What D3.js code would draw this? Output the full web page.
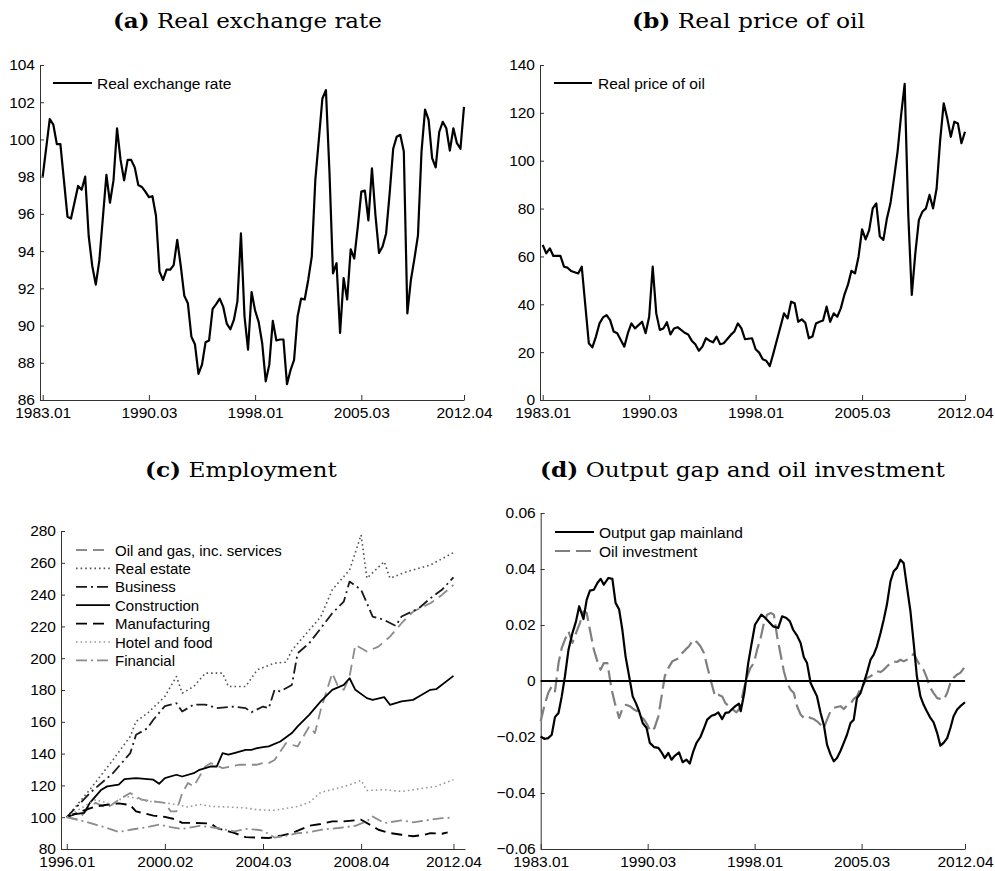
<!doctype html>
<meta charset="utf-8">
<title>Figure</title>
<script src="https://cdn.jsdelivr.net/npm/d3@7"></script>
<style>
body { margin: 0; background: #fff; }
</style>
<body>
<script>
var width = 995, height = 871;

// quarters: t = 0 is 1983.01 for panels a, b, d and 1996.01 for panel c
var longTicks = [0, 30, 60, 90, 119],
    longLabels = ["1983.01", "1990.03", "1998.01", "2005.03", "2012.04"];
var empTicks = [0, 17, 34, 51, 67],
    empLabels = ["1996.01", "2000.02", "2004.03", "2008.04", "2012.04"];
var rerTicks = [86, 88, 90, 92, 94, 96, 98, 100, 102, 104];
var oilTicks = [0, 20, 40, 60, 80, 100, 120, 140];
var empYTicks = [80, 100, 120, 140, 160, 180, 200, 220, 240, 260, 280];
var gapTicks = [-0.06, -0.04, -0.02, 0, 0.02, 0.04, 0.06];

var rer = [[0,98.0],[2,101.1],[3,100.8],[4,99.75],[5,99.75],[7,95.85],[8,95.75],[10,97.5],[11,97.3],[12,98.0],
  [13,94.8],[14,93.2],[15,92.2],[16,93.5],[18,98.1],[19,96.6],[20,97.8],[21,100.6],[22,98.9],[23,97.8],
  [24,98.9],[25,98.9],[26,98.5],[27,97.55],[28,97.45],[29,97.2],[30,96.9],[31,96.95],[32,95.9],[33,92.9],
  [34,92.45],[35,93.0],[36,93.0],[37,93.25],[38,94.6],[39,93.2],[40,91.6],[41,91.2],[42,89.4],[43,89.0],
  [44,87.4],[45,87.9],[46,89.1],[47,89.2],[48,90.9],[49,91.15],[50,91.45],[51,91.0],[52,90.1],[53,89.8],
  [54,90.3],[55,91.3],[56,94.95],[57,90.5],[58,88.7],[59,91.8],[60,90.8],[61,90.2],[62,89.05],[63,87.0],
  [64,87.9],[65,90.25],[66,89.2],[67,89.25],[68,89.25],[69,86.85],[70,87.6],[71,88.15],[72,90.5],[73,91.45],
  [74,91.4],[75,92.45],[76,93.7],[77,97.8],[78,100.0],[79,102.2],[80,102.65],[81,98.25],[82,92.8],[83,93.35],
  [84,89.6],[85,92.55],[86,91.4],[87,94.1],[88,93.6],[89,95.3],[90,97.2],[91,97.25],[92,95.65],[93,98.45],
  [94,95.9],[95,93.9],[96,94.25],[97,94.95],[98,97.1],[99,99.5],[100,100.15],[101,100.25],[102,99.35],[103,90.65],
  [104,92.45],[105,93.6],[106,94.85],[107,99.35],[108,101.6],[109,101.05],[110,99.0],[111,98.5],[112,100.4],[113,100.95],
  [114,100.6],[115,99.4],[116,100.6],[117,99.8],[118,99.5],[119,101.75]];

var oil = [[0,64.8],[1,61.3],[2,63.4],[3,60.2],[5,60.2],[6,55.7],[7,55.3],[8,53.9],[10,52.9],[11,55.7],
  [12,39.7],[13,23.7],[14,22.0],[15,26.5],[16,32.0],[17,34.5],[18,35.5],[19,33.4],[20,28.6],[21,27.9],
  [22,25.1],[23,22.3],[24,27.9],[25,32.0],[26,29.9],[27,31.3],[28,32.7],[29,27.9],[30,34.8],[31,55.7],
  [32,36.2],[33,29.3],[34,29.9],[35,32.5],[36,27.4],[37,29.9],[38,30.4],[39,29.3],[40,28.1],[41,27.4],
  [42,24.8],[43,23.3],[44,20.6],[45,22.3],[46,25.8],[47,24.8],[48,24.1],[49,26.5],[50,23.3],[51,23.7],
  [53,27.2],[54,28.6],[55,32.0],[56,29.9],[57,25.4],[59,25.8],[60,21.2],[61,19.8],[62,17.0],[63,16.4],
  [64,14.2],[65,19.5],[66,25.1],[67,30.6],[68,36.2],[69,34.1],[70,41.1],[71,40.4],[72,32.7],[73,33.7],
  [74,32.3],[75,25.8],[76,26.5],[77,32.0],[78,32.7],[79,33.2],[80,39.0],[81,32.7],[82,36.2],[83,34.8],
  [84,38.3],[85,43.9],[86,48.1],[87,54.0],[88,52.9],[89,59.9],[90,71.3],[91,67.1],[92,71.0],[93,80.1],
  [94,82.2],[95,68.3],[96,66.9],[97,75.9],[98,82.2],[99,92.6],[100,103.8],[101,119.1],[102,132.1],[103,78.0],
  [104,43.9],[105,61.3],[106,75.2],[107,78.7],[108,80.1],[109,85.7],[110,80.1],[111,88.4],[112,108.6],[113,124.0],
  [114,117.7],[115,110.0],[116,116.3],[117,115.6],[118,107.3],[119,112.1]];

var oilGas = [[0,100],[2,98.5],[4,106.8],[5,109],[7,105.8],[9,111],[11,115.2],[13,111],[15,110],[17,109],
  [18,103.7],[19,103.7],[20,115.2],[21,121.5],[22,119.4],[24,131.9],[25,134],[27,130.9],[30,133],[33,133],
  [34,134],[35,134],[36,136],[38,146.6],[40,144.5],[42,157],[43,152.9],[44,167.5],[46,190.6],[47,182.2],
  [48,180.1],[49,188.5],[50,208.4],[52,204.2],[54,207.3],[56,213.6],[58,222],[60,229.3],[63,234.6],[65,239.8],[67,246.1]];
var realEstate = [[0,100],[4,117.3],[8,136],[11,150.8],[12,160.2],[14,165.4],[17,175.9],[19,188.5],[20,178],[22,182.2],
  [24,190.6],[27,190.6],[28,182.2],[31,182.2],[33,192.7],[36,196.9],[38,197.5],[39,205],[44,226],[46,243],
  [49,255.5],[51,277.5],[52,250.3],[55,260.7],[56,250.3],[59,254.5],[63,258.6],[67,266.4]];
var business = [[0,100],[4,115.2],[8,127.7],[11,140.3],[12,151.8],[14,156],[15,161.3],[17,169.9],[19,171.7],[20,166.5],
  [22,170.8],[24,170.8],[26,168.6],[29,169.6],[31,168.6],[32,166],[34,169.6],[35,168.6],[36,180.1],[37,179.1],
  [39,183.2],[40,203.1],[42,209.4],[44,218.8],[46,228.3],[48,235.6],[49,248.2],[51,243],[53,226.2],[55,224.1],
  [57,220.3],[58,226.2],[61,231.4],[63,237.7],[65,243],[67,250.9]];
var construction = [[0,100],[1,101.7],[3,102.7],[4,109],[6,117.3],[7,119.4],[9,120.5],[10,124],[12,124.6],[14,124],
  [15,123.6],[16,121],[17,124.6],[19,126.7],[20,125.6],[22,127.7],[23,129.8],[25,131.9],[26,131.9],[27,140.3],
  [28,139.3],[29,140.3],[31,142.4],[32,142.4],[33,143.5],[34,144.1],[35,144.5],[37,147.6],[39,152.9],[40,157.1],
  [42,164.4],[44,172.8],[46,180.1],[48,183.2],[49,187.4],[50,180.1],[52,174.9],[53,173.8],[55,175.5],[56,170.7],
  [58,172.8],[60,173.8],[61,175.9],[63,180.1],[64,180.5],[67,188.9]];
var manufacturing = [[0,100],[3,104.3],[5,106.8],[7,107.8],[9,108.7],[11,107.6],[12,103.7],[15,101],[17,100.2],[19,98.5],
  [20,96.4],[22,96.4],[25,96],[26,93.2],[28,91.1],[29,90.1],[31,87.5],[33,87.2],[35,86.9],[37,88.3],
  [39,90],[42,94.6],[44,95.7],[46,97.4],[48,97.4],[51,98.4],[53,94.3],[54,92.1],[56,90],[58,89],
  [60,88],[62,89],[63,90],[65,89.6],[66,90.5]];
var hotelFood = [[0,100],[3,106.8],[5,111],[8,107.9],[10,113.1],[12,112],[14,110],[17,109],[19,108],[21,106.4],
  [23,108],[25,106.8],[28,106.4],[31,105.8],[33,104.7],[36,104.3],[40,106.8],[42,109.3],[44,115.6],[47,118.3],
  [49,120.4],[51,123.1],[52,116.8],[55,117.3],[58,116.2],[60,117.3],[64,119.4],[67,123.6]];
var financial = [[0,100],[3,97.4],[5,95.3],[7,93.2],[9,90.7],[11,92.1],[14,93.8],[16,95.3],[18,93.8],[20,92.6],
  [23,94.6],[26,93.2],[29,91.1],[31,92.6],[33,92.1],[34,91.5],[36,87.2],[38,88.3],[40,90],[42,90.5],
  [44,92.1],[47,93.2],[50,94.6],[52,97.4],[53,100.5],[55,96.3],[58,98],[60,96.8],[63,98.4],[65,99.4],[67,99.8]];

var gap = [[0,-0.0198],[1,-0.0207],[2.1,-0.0204],[3.1,-0.0192],[4,-0.0129],[5,-0.0114],[5.9,-0.0055],[6.8,0.0017],[7.8,0.0112],[8.9,0.0171],
  [9.9,0.0213],[10.8,0.0267],[12,0.0221],[12.9,0.029],[13.8,0.0323],[14.9,0.0326],[15.9,0.035],[16.8,0.0365],[17.7,0.0344],[19,0.0368],
  [20.1,0.0365],[21,0.0279],[22,0.0255],[22.9,0.0183],[23.8,0.0088],[24.8,0.0017],[25.8,-0.0055],[26.7,-0.0079],[27.6,-0.0108],[28.6,-0.015],
  [29.7,-0.0168],[30.6,-0.0221],[31.8,-0.0236],[33,-0.0239],[33.9,-0.0255],[34.8,-0.0275],[35.8,-0.0257],[36.7,-0.0281],[37.6,-0.0267],[38.8,-0.0255],
  [39.8,-0.029],[40.9,-0.0281],[41.8,-0.0295],[42.8,-0.0251],[43.7,-0.0221],[44.8,-0.02],[45.8,-0.0168],[46.7,-0.0138],[47.9,-0.0124],[48.9,-0.012],
  [49.8,-0.0112],[50.9,-0.0136],[51.8,-0.0114],[52.8,-0.0112],[53.7,-0.01],[54.6,-0.009],[55.6,-0.0081],[56.1,-0.0108],[57.1,-0.0043],[58.2,0.0064],
  [59.1,0.013],[60.1,0.0201],[61,0.0219],[61.9,0.0237],[63,0.0225],[64.3,0.0207],[65.2,0.0195],[66.6,0.0189],[67.7,0.0231],[68.9,0.0225],
  [69.9,0.0213],[70.8,0.0183],[71.9,0.0162],[72.9,0.0136],[73.8,0.0085],[74.7,0.0064],[75.7,-0.0007],[76.6,-0.0031],[77.5,-0.0055],[78.5,-0.0114],
  [79.4,-0.0156],[80.3,-0.0227],[81.3,-0.0263],[82.2,-0.0287],[83.1,-0.0275],[84.1,-0.0249],[85,-0.0221],[85.9,-0.0192],[86.9,-0.015],[87.8,-0.0138],
  [88.7,-0.0061],[89.7,-0.0043],[90.6,-0.0007],[91.5,0.0029],[92.5,0.0076],[93.4,0.0094],[94.3,0.0124],[95.3,0.0171],[96.2,0.0219],[97.1,0.0273],
  [98.1,0.0356],[99,0.0392],[99.9,0.0404],[100.9,0.0433],[101.8,0.0421],[102.7,0.0338],[103.7,0.0249],[104.6,0.0136],[105.5,0.0017],[106.5,-0.0055],
  [107.4,-0.0085],[108.3,-0.0108],[109.3,-0.0132],[110.2,-0.0148],[111.2,-0.0186],[112.1,-0.0231],[113,-0.0221],[114,-0.0204],[114.9,-0.0168],[115.8,-0.0126],
  [116.8,-0.0102],[117.7,-0.009],[119,-0.0076]];
var oilInv = [[0,-0.0144],[1,-0.009],[2.1,-0.0043],[3.1,-0.0019],[4,-0.0037],[5,0.0064],[5.9,0.0118],[6.8,0.0148],[7.8,0.0177],[8.9,0.0136],
  [9.9,0.0171],[11,0.0207],[12,0.0249],[12.9,0.0243],[13.8,0.0183],[14.9,0.0112],[15.9,0.007],[16.8,0.004],[17.7,0.0064],[18.7,0.0064],
  [19.9,-0.0031],[20.8,-0.0079],[22,-0.0132],[23,-0.0096],[23.9,-0.0085],[25,-0.009],[26.2,-0.0102],[27.1,-0.0108],[28,-0.0126],[29,-0.0138],
  [29.9,-0.0156],[30.8,-0.018],[31.9,-0.0168],[33,-0.0126],[33.9,-0.0055],[34.8,0.0017],[35.8,0.0046],[36.9,0.007],[37.8,0.0076],[38.8,0.0082],
  [39.7,0.01],[40.6,0.0112],[41.6,0.0124],[42.8,0.0148],[43.9,0.0138],[44.8,0.0124],[45.8,0.01],[46.7,0.0052],[47.9,-0.0007],[48.9,-0.0055],
  [49.8,-0.0049],[50.9,-0.0055],[51.8,-0.0079],[52.8,-0.009],[53.7,-0.01],[54.9,-0.0112],[55.9,-0.0096],[56.8,-0.0037],[57.9,0.0017],[58.8,0.0046],
  [59.8,0.0064],[60.7,0.0112],[61.7,0.0154],[62.6,0.0207],[63.5,0.0237],[64.5,0.0243],[65.4,0.0237],[66.3,0.016],[67.3,0.0094],[68.2,0.0035],
  [69.1,-0.0007],[70.1,-0.0031],[71,-0.0043],[71.9,-0.009],[72.9,-0.012],[73.8,-0.0132],[74.7,-0.0126],[75.7,-0.0132],[76.6,-0.0136],[77.5,-0.0144],
  [78.5,-0.0156],[79.4,-0.0168],[80.3,-0.0138],[81.3,-0.0108],[82.2,-0.0096],[83.1,-0.0093],[84.1,-0.009],[85,-0.01],[85.9,-0.0088],[86.9,-0.0081],
  [87.8,-0.0064],[88.7,-0.0055],[89.7,-0.0025],[90.6,-0.0013],[91.5,0.0011],[92.5,0.0017],[93.4,0.0025],[94.3,0.0035],[95.3,0.0032],[96.2,0.004],
  [97.1,0.0052],[98.1,0.0064],[99,0.007],[99.9,0.0068],[100.9,0.0076],[101.8,0.007],[102.7,0.0076],[103.7,0.0082],[104.6,0.0098],[105.5,0.0076],
  [106.5,0.0052],[107.4,0.004],[108.3,0.0011],[109.3,-0.0025],[110.2,-0.0043],[111.2,-0.0061],[112.1,-0.0064],[113,-0.0067],[114,-0.0043],[114.9,-0.0007],
  [115.8,0.0011],[116.8,0.0023],[117.7,0.0029],[119,0.0052]];

var svg = d3.select('body').append('svg')
  .attr('width', width)
  .attr('height', height);

var SANS = '"Liberation Sans", Arial, Helvetica, sans-serif';

function panel(o) {
  var x = d3.scaleLinear().domain(o.xdom).range(o.xr);
  var y = d3.scaleLinear().domain(o.ydom).range(o.yr);
  var g = svg.append('g');

  var ax = g.append('g')
    .attr('transform', 'translate(0,' + o.yr[0] + ')')
    .call(d3.axisBottom(x).tickValues(o.xt)
      .tickFormat(function(d, i) { return o.xl[i]; })
      .tickSizeInner(-5).tickSizeOuter(0).tickPadding(7));
  var ay = g.append('g')
    .attr('transform', 'translate(' + o.xr[0] + ',0)')
    .call(d3.axisLeft(y).tickValues(o.yt)
      .tickFormat(o.yf || function(d) { return d; })
      .tickSizeInner(-4).tickSizeOuter(0).tickPadding(5));

  [ax, ay].forEach(function(a) {
    a.attr('font-family', SANS).attr('font-size', o.fs || 15.5);
    a.selectAll('.domain, .tick line').attr('stroke', '#333');
    a.selectAll('.tick text').attr('fill', '#000');
  });
  return { g: g, x: x, y: y };
}

function series(p, data, st) {
  var line = d3.line()
    .x(function(d) { return p.x(d[0]); })
    .y(function(d) { return p.y(d[1]); });
  p.g.append('path')
    .datum(data)
    .attr('d', line)
    .attr('fill', 'none')
    .attr('stroke', st.color)
    .attr('stroke-width', st.w)
    .attr('stroke-dasharray', st.dash || null)
    .attr('stroke-linejoin', 'round');
}

function legend(items, x0, x1, tx, y0, dy, fs) {
  items.forEach(function(it, i) {
    var y = y0 + i * dy;
    svg.append('line')
      .attr('x1', x0).attr('x2', x1).attr('y1', y).attr('y2', y)
      .attr('stroke', it.st.color).attr('stroke-width', it.st.w)
      .attr('stroke-dasharray', it.st.dash || null);
    svg.append('text')
      .attr('x', tx).attr('y', y + 5.5)
      .attr('font-family', SANS).attr('font-size', fs)
      .text(it.name);
  });
}

function title(letter, rest, left, right, base) {
  var t = svg.append('text')
    .attr('font-family', '"DejaVu Serif", "Liberation Serif", serif')
    .attr('font-size', 21);
  t.append('tspan').attr('font-weight', 'bold').text('(' + letter + ')');
  t.append('tspan').text('\u00a0' + rest);
  var w = t.node().getComputedTextLength();
  t.attr('transform', 'translate(' + left + ',' + base + ') scale(' + ((right - left) / w) + ',1)');
}

// (a)
var pa = panel({ xdom: [-0.76, 119], xr: [40, 464], ydom: [86, 104], yr: [400, 65],
  xt: longTicks, xl: longLabels, yt: rerTicks });
var blk = { color: '#000', w: 2.2 };
series(pa, rer, blk);
legend([{ name: 'Real exchange rate', st: blk }], 53, 92, 97, 83, 0, 15.5);
title('a', 'Real exchange rate', 113, 382, 28);

// (b)
var pb = panel({ xdom: [-0.76, 119], xr: [540, 965], ydom: [0, 140], yr: [400, 65],
  xt: longTicks, xl: longLabels, yt: oilTicks });
series(pb, oil, blk);
legend([{ name: 'Real price of oil', st: blk }], 554, 592, 598, 83, 0, 15.5);
title('b', 'Real price of oil', 632, 865, 28);

// (c)
var pc = panel({ xdom: [-1, 69], xr: [61, 465], ydom: [80, 280], yr: [849, 531],
  xt: empTicks, xl: empLabels, yt: empYTicks, fs: 15.5 });
var empSeries = [
  { name: 'Oil and gas, inc. services', data: oilGas, st: { color: '#8c8c8c', w: 1.8, dash: '11,6' } },
  { name: 'Real estate', data: realEstate, st: { color: '#555', w: 1.6, dash: '1.6,3' } },
  { name: 'Business', data: business, st: { color: '#1a1a1a', w: 1.8, dash: '11,4,2,4' } },
  { name: 'Construction', data: construction, st: { color: '#000', w: 1.8 } },
  { name: 'Manufacturing', data: manufacturing, st: { color: '#000', w: 1.9, dash: '11,6' } },
  { name: 'Hotel and food', data: hotelFood, st: { color: '#999', w: 1.6, dash: '1.6,3' } },
  { name: 'Financial', data: financial, st: { color: '#8c8c8c', w: 1.8, dash: '11,4,2,4' } }
];
empSeries.forEach(function(s) { series(pc, s.data, s.st); });
legend(empSeries, 76, 110, 115, 550, 18.4, 15);
title('c', 'Employment', 145, 337, 477);

// (d)
var pd = panel({ xdom: [0, 119], xr: [540.7, 965], ydom: [-0.06, 0.06], yr: [849, 513],
  xt: longTicks, xl: longLabels, yt: gapTicks,
  yf: function(d) { return d === 0 ? '0' : (d < 0 ? '\u2212' : '') + Math.abs(d).toFixed(2); } });
var invSt = { color: '#7f7f7f', w: 2.2, dash: '15,6' };
series(pd, oilInv, invSt);
pd.g.append('line')
  .attr('x1', pd.x(0)).attr('x2', pd.x(119))
  .attr('y1', pd.y(0)).attr('y2', pd.y(0))
  .attr('stroke', '#000').attr('stroke-width', 2.2);
series(pd, gap, blk);
legend([{ name: 'Output gap mainland', st: blk }, { name: 'Oil investment', st: invSt }],
  555, 594, 599, 532, 19, 15.5);
title('d', 'Output gap and oil investment', 540, 945, 477);
</script>
</body>
